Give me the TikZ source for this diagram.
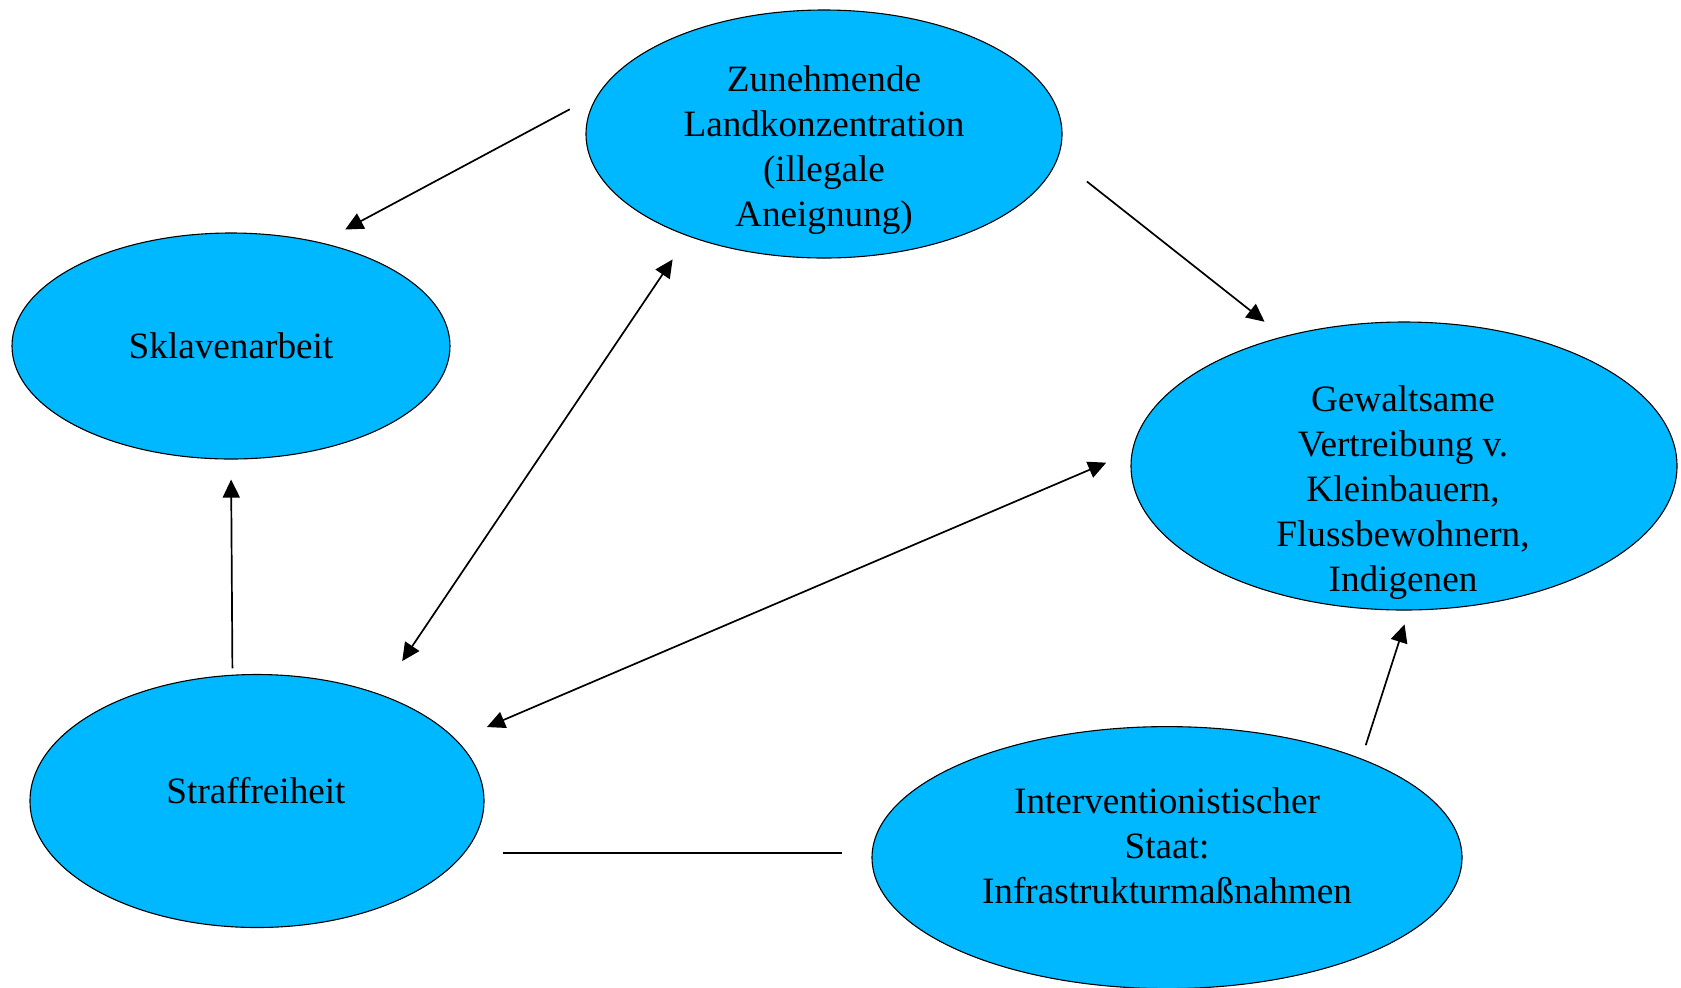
\documentclass[tikz,border=0pt]{standalone}
\usepackage{fontspec}
\setmainfont{Liberation Serif}
\usetikzlibrary{shapes.geometric, arrows.meta}
\definecolor{bubblecyan}{RGB}{0,184,255}

\begin{document}
\begin{tikzpicture}[x=0.5pt, y=-0.5pt,
    every node/.style={font=\fontsize{18.6}{22.5}\selectfont, align=center},
    bubble/.style={ellipse, draw=black, line width=0.55pt, fill=bubblecyan, inner sep=0pt},
    headtip/.tip={Triangle[length=9pt, width=8.5pt]},
    link/.style={line width=0.85pt},
    arrow/.style={link, -headtip},
    twoway/.style={link, headtip-headtip}]
    \useasboundingbox (0,0) rectangle (1681,987);% page = picture size
    \coordinate (LandPos)     at (824,134);
    \coordinate (SlavePos)    at (231,346);
    \coordinate (EvictionPos) at (1404,466);
    \coordinate (ImpunityPos) at (257,801);
    \coordinate (StatePos)    at (1167,857.6);

    % the five bubbles
    \node[bubble, minimum width=238pt, minimum height=124pt] (Land) at (LandPos) {};
    \node[bubble, minimum width=219pt, minimum height=113pt] (Slave) at (SlavePos) {};
    \node[bubble, minimum width=273pt, minimum height=144pt] (Eviction) at (EvictionPos) {};
    \node[bubble, minimum width=227pt, minimum height=126.5pt] (Impunity) at (ImpunityPos) {};
    \node[bubble, minimum width=295pt, minimum height=131pt] (State) at (StatePos) {};

    % their texts, set a little off the middle
    \node (LandText) at (824,150) {Zunehmende\\Landkonzentration\\(illegale\\Aneignung)};
    \node (SlaveText) at (231,346) {Sklavenarbeit};
    \node (EvictionText) at (1403,493) {Gewaltsame\\Vertreibung v.\\Kleinbauern,\\Flussbewohnern,\\Indigenen};
    \node (ImpunityText) at (256,791) {Straffreiheit};
    \node (StateText) at (1167,846) {Interventionistischer\\Staat:\\Infrastrukturma\ss nahmen};

    % connectors, kept off the borders
    \draw[arrow, shorten <=16pt, shorten >=13.7pt] (Land.170) -- (Slave.49);
    \draw[arrow, shorten <=18.5pt, shorten >=11.8pt] (Land.-6.5) -- (Eviction.133);
    \draw[twoway, shorten <=19.9pt, shorten >=13.9pt] (Impunity.41.6) -- (Land.217);
    \draw[twoway, shorten <=16.5pt, shorten >=13.9pt] (Impunity.17.5) -- (Eviction.177);
    \draw[arrow, shorten <=3.2pt, shorten >=10pt] (Impunity.101) -- (Slave.270.5);
    \draw[link, shorten <=18.9pt, shorten >=14.5pt] (Impunity.-14.7) -- (Impunity.-14.7 -| State.west);
    \draw[arrow, shorten <=7pt, shorten >=7.3pt] (State.27) -- (Eviction.-88.6);
\end{tikzpicture}
\end{document}
